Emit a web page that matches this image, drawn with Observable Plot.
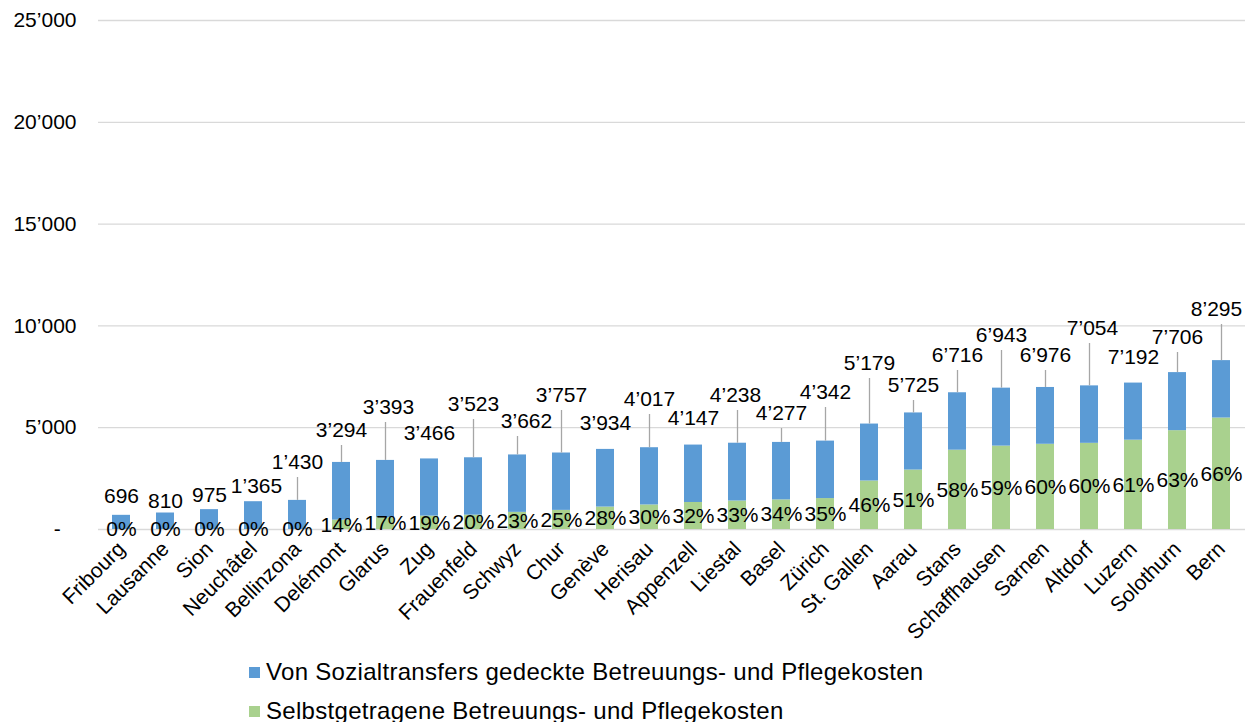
<!DOCTYPE html>
<html><head><meta charset="utf-8">
<script src="https://cdn.jsdelivr.net/npm/d3@7"></script>
<script src="https://cdn.jsdelivr.net/npm/@observablehq/plot@0.6"></script>
<style>
body{margin:0;background:#fff;color:#000;font-family:"Liberation Sans",Arial,sans-serif;}
#wrap{position:relative;width:1255px;height:722px;overflow:hidden}
#wrap svg{position:absolute;left:0;top:0}
.legend{position:absolute;left:249px;font-size:24px;letter-spacing:0.3px;line-height:28px;display:flex;align-items:center;white-space:nowrap}
.sw{width:11px;height:11px;margin-right:6px;flex:none}
</style></head><body><div id="wrap"></div>
<script>
// ---- data ----
const cities = ["Fribourg","Lausanne","Sion","Neuchâtel","Bellinzona","Delémont","Glarus","Zug","Frauenfeld","Schwyz","Chur","Genève","Herisau","Appenzell","Liestal","Basel","Zürich","St. Gallen","Aarau","Stans","Schaffhausen","Sarnen","Altdorf","Luzern","Solothurn","Bern"];
const totals = [696,810,975,1365,1430,3294,3393,3466,3523,3662,3757,3934,4017,4147,4238,4277,4342,5179,5725,6716,6943,6976,7054,7192,7706,8295];
const selfShare = [0,0,0,0,0,14,17,19,20,23,25,28,30,32,33,34,35,46,51,58,59,60,60,61,63,66]; // % selbstgetragen
const seriesNames = ["Von Sozialtransfers gedeckte Betreuungs- und Pflegekosten","Selbstgetragene Betreuungs- und Pflegekosten"];
const yTicks = [0,5000,10000,15000,20000,25000];
// ---- label layout (where Excel's moved data labels sit, in value units) ----
const labelAt = [1621,1400,1670,2112,3291,4862,5992,4715,6139,5304,6581,5206,6385,5452,6581,5697,6729,8153,7073,8546,9528,8546,9872,8448,9430,10805];
const labelShift = [0,0,0,3,0,0,3,0,0,9,0,0,0,0,-2,0,0,0,0,0,0,0,3,0,0,-5];
const leaderCities = ["Bellinzona","Delémont","Glarus","Frauenfeld","Schwyz","Chur","Herisau","Liestal","Basel","Zürich","St. Gallen","Aarau","Stans","Schaffhausen","Sarnen","Altdorf","Solothurn","Bern"];

const colors = {blue:"#5B9BD5", green:"#A9D18E", grid:"#D9D9D9", leader:"#A6A6A6"};
const fmt = d3.formatLocale({thousands:"\u2019", grouping:[3], decimal:".", currency:["",""]}).format(",");

const rows = cities.map((c,i)=>{
  const green = totals[i]*selfShare[i]/100;
  return {city:c, total:totals[i], green, share:selfShare[i], labelAt:labelAt[i], dx:labelShift[i], leader:leaderCities.includes(c)};
});

const W = 1255, H = 650, mT = 20, mB = 121, yMax = 25000;
const pxToVal = yMax/(H-mT-mB);
const gap = 15*pxToVal;

const labelMarks = d3.groups(rows, d=>d.dx).map(([dx, rs]) =>
  Plot.text(rs, {x:"city", y:"labelAt", text:d=>fmt(d.total), dx, fontSize:21}));

const chart = Plot.plot({
  width: W, height: H,
  marginTop: mT, marginBottom: mB, marginLeft: 98, marginRight: 10,
  style: {fontSize:"21px", fontFamily:"'Liberation Sans', Arial, sans-serif", color:"#000", background:"#fff", overflow:"visible"},
  x: {domain: cities, paddingInner: 0.59, paddingOuter: 0.295},
  y: {domain: [0, yMax]},
  marks: [
    Plot.gridY(yTicks, {stroke: colors.grid, strokeOpacity: 1, strokeWidth: 1.3}),
    Plot.axisY({ticks: yTicks, tickSize: 0, tickPadding: 22, label: null,
      tickFormat: d => d === 0 ? "-\u00a0\u00a0\u2009" : fmt(d), fontSize: 21}),
    Plot.axisX({tickRotate: -45, tickSize: 0, tickPadding: 16, label: null, fontSize: 21}),
    Plot.barY(rows, {x:"city", y1:0, y2:"green", fill: colors.green}),
    Plot.barY(rows, {x:"city", y1:"green", y2:"total", fill: colors.blue}),
    Plot.ruleX(rows.filter(d=>d.leader), {x:"city", y1:"total", y2:d=>d.labelAt-gap, stroke: colors.leader, strokeWidth: 1.3}),
    ...labelMarks,
    Plot.text(rows, {x:"city", y:d=>d.green/2, text:d=>d.share+"%", fontSize:21})
  ]
});
const wrap = document.getElementById("wrap");
wrap.appendChild(chart);

[[seriesNames[0], colors.blue, 672], [seriesNames[1], colors.green, 711]].forEach(([name, col, cy])=>{
  const el = document.createElement("div");
  el.className = "legend";
  el.style.top = (cy-14)+"px";
  el.innerHTML = `<span class="sw" style="background:${col}"></span><span>${name}</span>`;
  wrap.appendChild(el);
});
</script></body></html>
